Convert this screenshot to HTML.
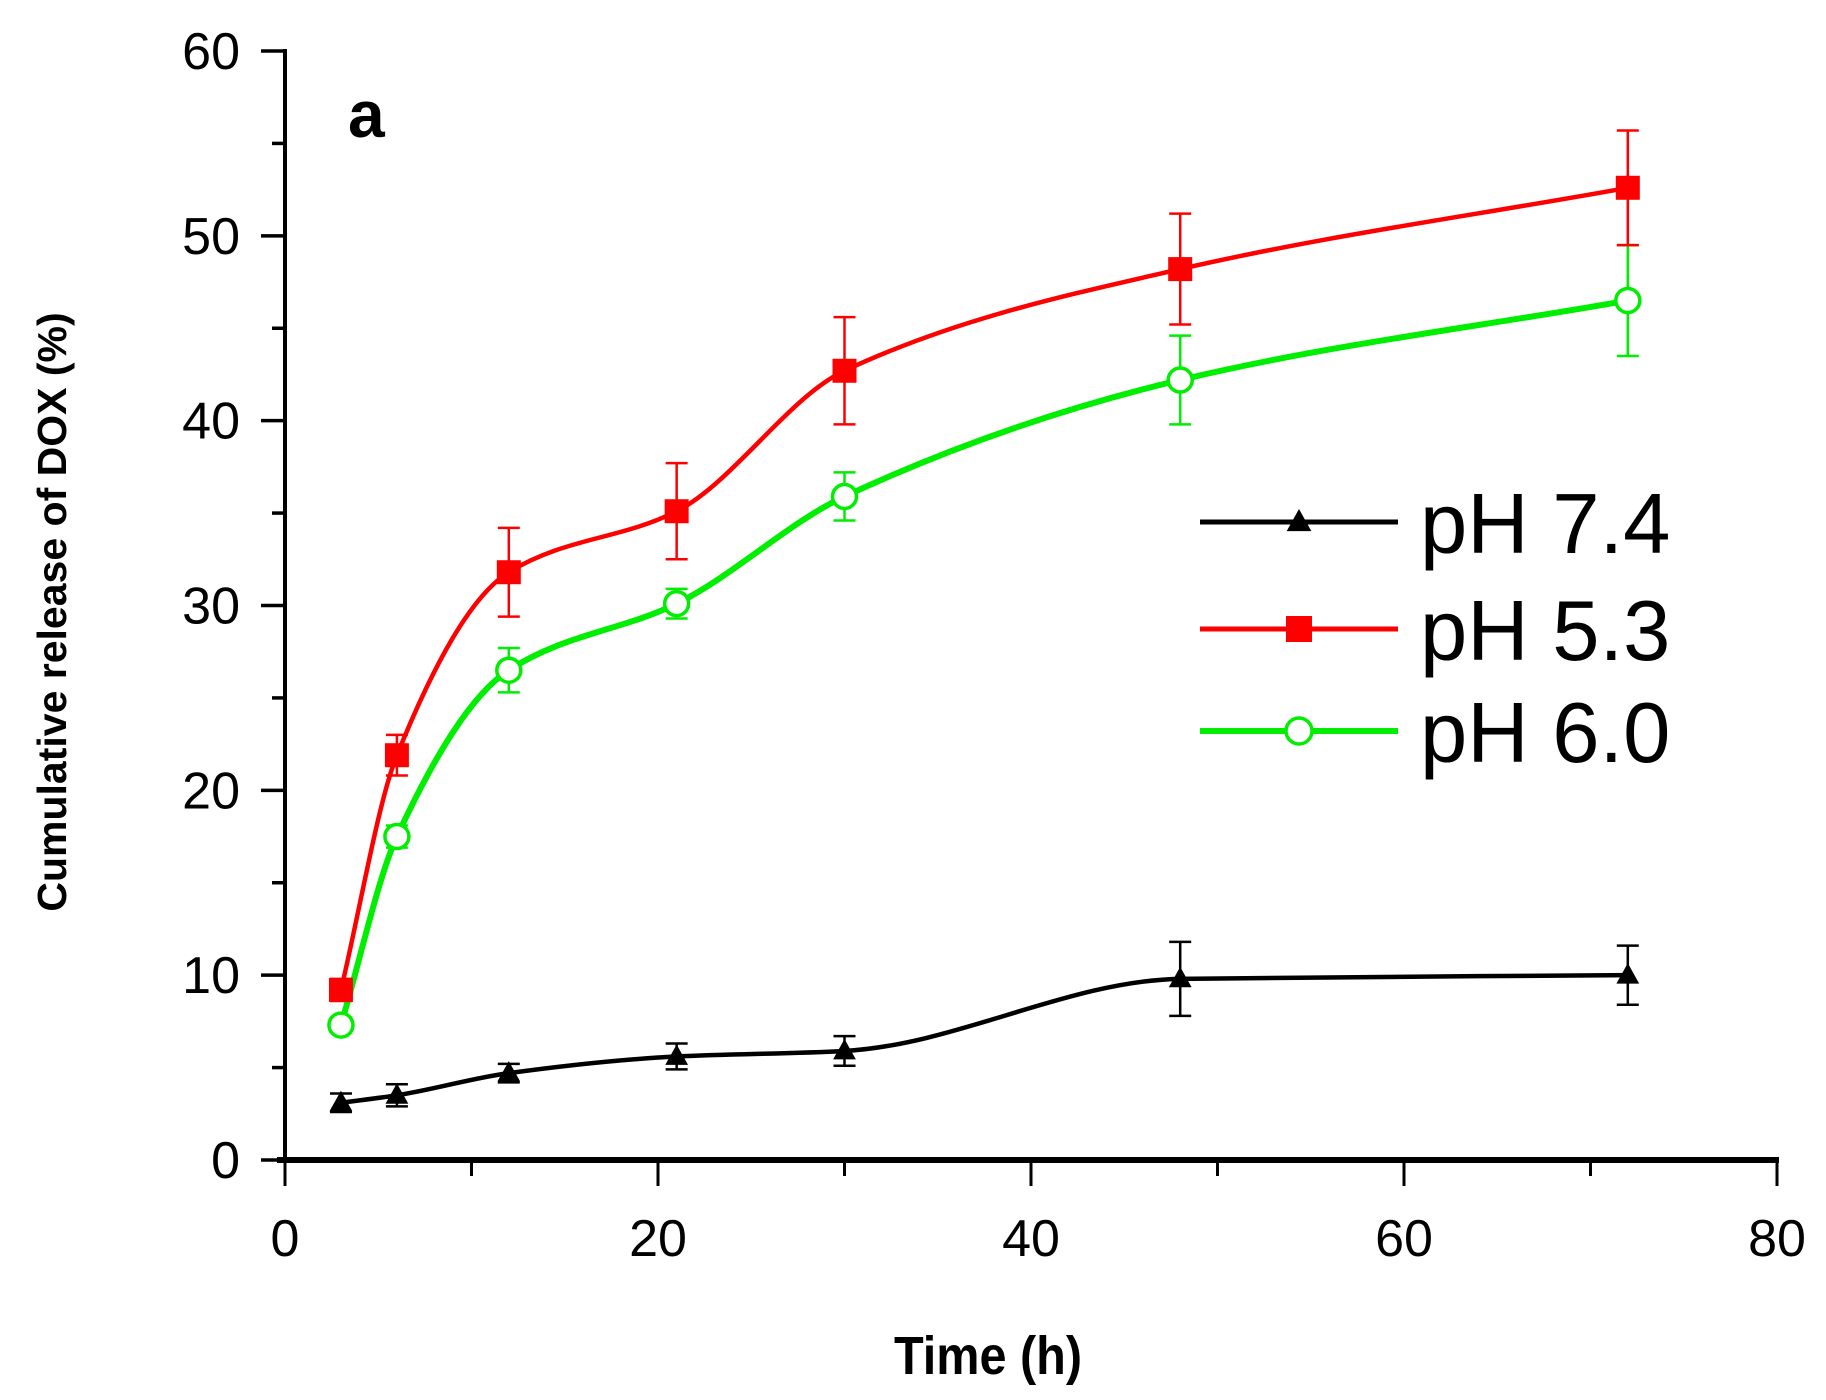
<!DOCTYPE html>
<html><head><meta charset="utf-8"><style>
html,body{margin:0;padding:0;background:#fff;}
svg{display:block;font-family:"Liberation Sans",Arial,sans-serif;}
</style></head><body>
<svg id="chart" width="1826" height="1400" viewBox="0 0 1826 1400" xmlns="http://www.w3.org/2000/svg"></svg>
<script>
const times = [3, 6, 12, 21, 30, 48, 72];
const ph74 = [3.1, 3.5, 4.7, 5.6, 5.9, 9.8, 10.0];
const ph74Err = [0.5, 0.6, 0.5, 0.7, 0.8, 2.0, 1.6];
const ph53 = [9.2, 21.9, 31.8, 35.1, 42.7, 48.2, 52.6];
const ph53Err = [0.6, 1.1, 2.4, 2.6, 2.9, 3.0, 3.1];
const ph60 = [7.3, 17.5, 26.5, 30.1, 35.9, 42.2, 46.5];
const ph60Err = [0.4, 0.6, 1.2, 0.8, 1.3, 2.4, 3.0];
const xTicks = [0, 20, 40, 60, 80];
const yTicks = [0, 10, 20, 30, 40, 50, 60];

const svg = document.getElementById('chart');
const NS = 'http://www.w3.org/2000/svg';
const X0 = 285, X1 = 1777, Y0 = 1160, Y1 = 51;
const sx = v => X0 + (v - 0) / 80 * (X1 - X0);
const sy = v => Y0 - v / 60 * (Y0 - Y1);
function mk(tag, attrs, parent) {
  const e = document.createElementNS(NS, tag);
  for (const k in attrs) e.setAttribute(k, attrs[k]);
  (parent || svg).appendChild(e);
  return e;
}
const ax = mk('g', {});


mk('line', {x1: X0, y1: Y1 - 2, x2: X0, y2: Y0 + 3, stroke: '#000', 'stroke-width': 4}, ax);
mk('line', {x1: X0 - 8, y1: Y0, x2: X1 + 2, y2: Y0, stroke: '#000', 'stroke-width': 6}, ax);
for (let v = 0; v <= 80; v += 10) {
  const major = v % 20 === 0;
  mk('line', {x1: sx(v), y1: Y0, x2: sx(v), y2: Y0 + (major ? 26 : 16), stroke: '#000', 'stroke-width': 3}, ax);
}
for (let v = 0; v <= 60; v += 5) {
  const major = v % 10 === 0;
  mk('line', {x1: X0 - (major ? 24 : 13), y1: sy(v), x2: X0, y2: sy(v), stroke: '#000', 'stroke-width': 3.5}, ax);
}
xTicks.forEach(v => {
  const t = mk('text', {x: sx(v), y: 1256, 'font-size': 52, 'text-anchor': 'middle'}, ax);
  t.textContent = v;
  
  
});
yTicks.forEach(v => {
  const t = mk('text', {x: 240, y: sy(v) + 18, 'font-size': 52, 'text-anchor': 'end'}, ax);
  t.textContent = v;
  
  
});
const xt = mk('text', {x: 988, y: 1374, 'font-size': 54, 'font-weight': 'bold', 'text-anchor': 'middle', transform: 'translate(988,0) scale(0.9,1) translate(-988,0)'});
xt.textContent = 'Time (h)';


const yt = mk('text', {x: 0, y: 0, 'font-size': 41, 'font-weight': 'bold', 'text-anchor': 'middle', transform: 'translate(66,612) rotate(-90)'});
yt.textContent = 'Cumulative release of DOX (%)';


const pl = mk('text', {x: 348, y: 137, 'font-size': 66, 'font-weight': 'bold'});
pl.textContent = 'a';



function smoothPath(xs, ys) {
  const n = xs.length;
  const px = xs.map(sx), py = ys.map(sy);
  const d = [], m = new Array(n);
  for (let i = 0; i < n - 1; i++) d.push((py[i + 1] - py[i]) / (px[i + 1] - px[i]));
  m[0] = d[0]; m[n - 1] = d[n - 2];
  for (let i = 1; i < n - 1; i++) {
    if (d[i - 1] * d[i] <= 0) m[i] = 0;
    else {
      const h0 = px[i] - px[i - 1], h1 = px[i + 1] - px[i];
      const w1 = 2 * h1 + h0, w2 = h1 + 2 * h0;
      m[i] = (w1 + w2) / (w1 / d[i - 1] + w2 / d[i]);
    }
  }
  let s = `M${px[0]},${py[0]}`;
  for (let i = 0; i < n - 1; i++) {
    const h = (px[i + 1] - px[i]) / 3;
    s += ` C${px[i] + h},${py[i] + m[i] * h} ${px[i + 1] - h},${py[i + 1] - m[i + 1] * h} ${px[i + 1]},${py[i + 1]}`;
  }
  return s;
}
function marker(type, color, cx, cy, parent, s) {
  if (type === 'tri') return mk('polygon', {points: `${cx},${cy - s} ${cx - s * 0.95},${cy + s * 0.7} ${cx + s * 0.95},${cy + s * 0.7}`, fill: '#000'}, parent);
  if (type === 'sq') return mk('rect', {x: cx - s, y: cy - s, width: 2 * s, height: 2 * s, fill: color}, parent);
  return mk('circle', {cx, cy, r: s, fill: '#fff', stroke: color, 'stroke-width': 3.5}, parent);
}
function series(name, vals, errs, color, type) {
  const g = mk('g', {});
  
  
  const path = mk('path', {d: smoothPath(times, vals), fill: 'none', stroke: color, 'stroke-width': type === 'circ' ? 6 : 4.5}, g);
  
  
  times.forEach((t, i) => {
    const x = sx(t), yt = sy(vals[i] + errs[i]), yb = sy(vals[i] - errs[i]);
    const eb = mk('path', {d: `M${x},${yt}V${yb}M${x - 11},${yt}H${x + 11}M${x - 11},${yb}H${x + 11}`, stroke: color, 'stroke-width': 2.5, fill: 'none'}, g);
    
    
  });
  times.forEach((t, i) => {
    const m = marker(type, color, sx(t), sy(vals[i]), g, 12);
    
    
  });
}
series('ph-7-4', ph74, ph74Err, '#000', 'tri');
series('ph-6-0', ph60, ph60Err, '#00ee00', 'circ');
series('ph-5-3', ph53, ph53Err, '#ff0000', 'sq');

const lg = mk('g', {});


[['pH 7.4', '#000', 'tri', 522], ['pH 5.3', '#ff0000', 'sq', 629], ['pH 6.0', '#00ee00', 'circ', 731]].forEach(([lab, c, type, y]) => {
  const e = mk('g', {}, lg);
  
  
  mk('line', {x1: 1200, y1: y, x2: 1398, y2: y, stroke: c, 'stroke-width': type === 'circ' ? 6 : 5}, e);
  marker(type, c, 1299, y, e, 13);
  const t = mk('text', {x: 1420, y: y + 31, 'font-size': 85}, e);
  t.textContent = lab;
});
</script>
</body></html>
